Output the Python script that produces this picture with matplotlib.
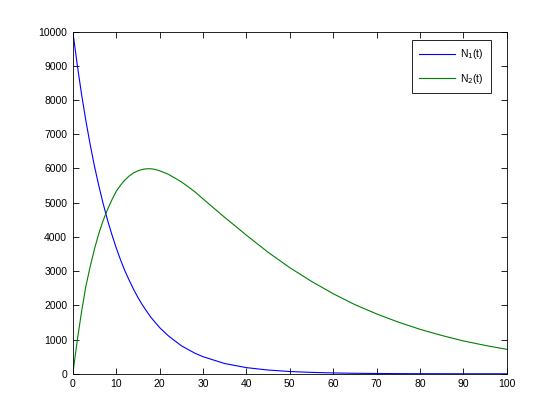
import matplotlib
matplotlib.use("Agg")
import matplotlib.pyplot as plt

plt.rcParams['font.family'] = ['Liberation Sans', 'DejaVu Sans']

t = [0, 1, 2, 3, 4, 5, 6, 7, 8, 9, 10, 11, 12, 13, 14, 15, 16, 17, 18,
     19, 20, 22, 25, 28, 30, 35, 40, 45, 50, 55, 60, 65, 70, 75, 80, 85,
     90, 95, 100]
n1 = [10000, 9050, 8180, 7400, 6700, 6060, 5490, 4970, 4490, 4070, 3680,
      3330, 3010, 2730, 2470, 2230, 2020, 1830, 1650, 1500, 1350, 1110,
      820, 610, 500, 300, 180, 110, 67, 41, 25, 15, 9, 5, 3, 2, 1, 1, 0]
n2 = [0, 950, 1800, 2550, 3130, 3650, 4100, 4480, 4800, 5080, 5330, 5510,
      5660, 5780, 5870, 5930, 5970, 5990, 5990, 5970, 5930, 5830, 5610,
      5330, 5110, 4570, 4050, 3550, 3100, 2700, 2340, 2020, 1750, 1510,
      1300, 1120, 960, 830, 715]
labels = ['N$_1$(t)', 'N$_2$(t)']

fig = plt.figure(figsize=(5.6, 4.2), dpi=100)
ax = fig.add_axes([0.13, 0.11, 0.775, 0.815])
ax.plot(t, n1, color='#0000ff', lw=0.8, label=labels[0])
ax.plot(t, n2, color='#008000', lw=0.8, label=labels[1])

ax.set_xlim(0, 100)
ax.set_ylim(0, 10000)
ax.set_xticks(range(0, 101, 10))
ax.set_yticks(range(0, 10001, 1000))
ax.tick_params(direction='in', length=4, width=0.6, top=True, right=True,
               labelsize=7.5, pad=4)
for s in ax.spines.values():
    s.set_linewidth(0.6)

leg = ax.legend(loc='upper right', bbox_to_anchor=(0.963, 0.975),
                fontsize=7.5, fancybox=False, framealpha=1,
                edgecolor='black', handlelength=3.4, handletextpad=0.5,
                borderpad=0.7, labelspacing=1.0, borderaxespad=0)
leg.get_frame().set_linewidth(0.6)

fig.savefig('out.png', dpi=100)
